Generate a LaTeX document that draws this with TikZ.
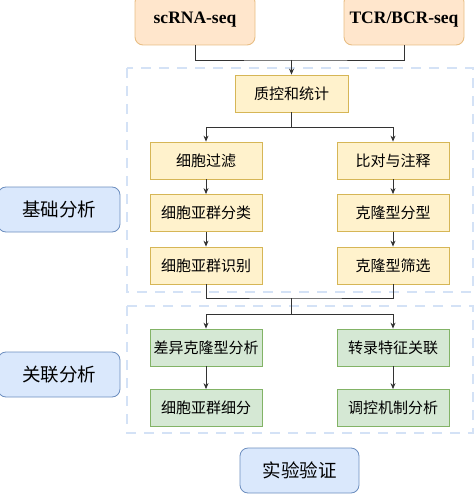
\documentclass[tikz,border=0pt]{standalone}
\usepackage{fontspec}
\setmainfont{Liberation Serif}
\newfontfamily\cjk{Noto Sans CJK SC}
\usetikzlibrary{arrows.meta}
\definecolor{orfill}{HTML}{FFE6CC}
\definecolor{ordraw}{HTML}{E8BE84}
\definecolor{yefill}{HTML}{FFF2CC}
\definecolor{yedraw}{HTML}{D6B656}
\definecolor{grfill}{HTML}{D5E8D4}
\definecolor{grdraw}{HTML}{82B366}
\definecolor{blfill}{HTML}{DAE8FC}
\definecolor{bldraw}{HTML}{6C8EBF}
\definecolor{dashc}{HTML}{D4E2F6}
\definecolor{linec}{HTML}{333333}
\tikzset{
  x=1pt, y=-1pt,
  src/.style={draw=ordraw, fill=orfill, line width=0.9pt, rounded corners=8pt,
    minimum width=120pt, minimum height=51pt, inner sep=0pt,
    font=\fontsize{17.5}{20}\selectfont\bfseries},
  ybox/.style={draw=yedraw, fill=yefill, line width=0.8pt,
    minimum width=112pt, minimum height=37pt, inner sep=0pt,
    font=\cjk\fontsize{15}{18}\selectfont},
  gbox/.style={ybox, draw=grdraw, fill=grfill},
  lbox/.style={draw=bldraw, fill=blfill, line width=0.8pt, rounded corners=8pt,
    minimum width=122pt, minimum height=45pt, inner sep=0pt,
    font=\cjk\fontsize{18.5}{22}\selectfont},
  container/.style={draw=dashc, line width=2pt, dash pattern=on 10pt off 8pt},
  conn/.style={draw=linec, line width=0.8pt},
  arr/.style={conn, -{Stealth[length=6pt,width=5pt]}}
}
\begin{document}
\begin{tikzpicture}
\useasboundingbox (0,0) rectangle (474,494);
% containers
\draw[container] (127,68) rectangle (473,292);
\draw[container] (127,306) rectangle (473,433);
% sources
\node[src] (sc) at (195,19.5) {scRNA-seq};
\node[src] (tcr) at (404,19.5) {TCR/BCR-seq};
% qc
\node[ybox, minimum width=113pt] (qc) at (291.5,93.5) {质控和统计};
% left column
\node[ybox] (l1) at (206,160.5) {细胞过滤};
\node[ybox] (l2) at (206,213) {细胞亚群分类};
\node[ybox] (l3) at (206,265.5) {细胞亚群识别};
\node[ybox] (r1) at (393,160.5) {比对与注释};
\node[ybox] (r2) at (393,213) {克隆型分型};
\node[ybox] (r3) at (393,265.5) {克隆型筛选};
% green
\node[gbox] (g1) at (206,347.5) {差异克隆型分析};
\node[gbox] (g2) at (393,347.5) {转录特征关联};
\node[gbox] (g3) at (206,408) {细胞亚群细分};
\node[gbox] (g4) at (393,408) {调控机制分析};
% labels
\node[lbox] (b1) at (59,209.5) {基础分析};
\node[lbox] (b2) at (59,374.5) {关联分析};
\node[lbox, minimum width=119pt] (b3) at (299.5,470.5) {实验验证};
% junctions
\coordinate (j1) at (291.5,60);
\coordinate (j2) at (291.5,127);
\coordinate (j3) at (291.5,298);
\coordinate (j4) at (291.5,314);
% connectors
\draw[conn] (sc.south) |- (j1) -| (tcr.south);
\draw[arr] (j1) -- (qc.north);
\draw[conn] (qc.south) -- (j2);
\draw[arr] (j2) -| (l1.north);
\draw[arr] (j2) -| (r1.north);
\draw[arr] (l1) -- (l2);
\draw[arr] (l2) -- (l3);
\draw[arr] (r1) -- (r2);
\draw[arr] (r2) -- (r3);
\draw[conn] (l3.south) |- (j3) -| (r3.south);
\draw[conn] (j3) -- (j4);
\draw[arr] (j4) -| (g1.north);
\draw[arr] (j4) -| (g2.north);
\draw[arr] (g1) -- (g3);
\draw[arr] (g2) -- (g4);
\end{tikzpicture}
\end{document}
